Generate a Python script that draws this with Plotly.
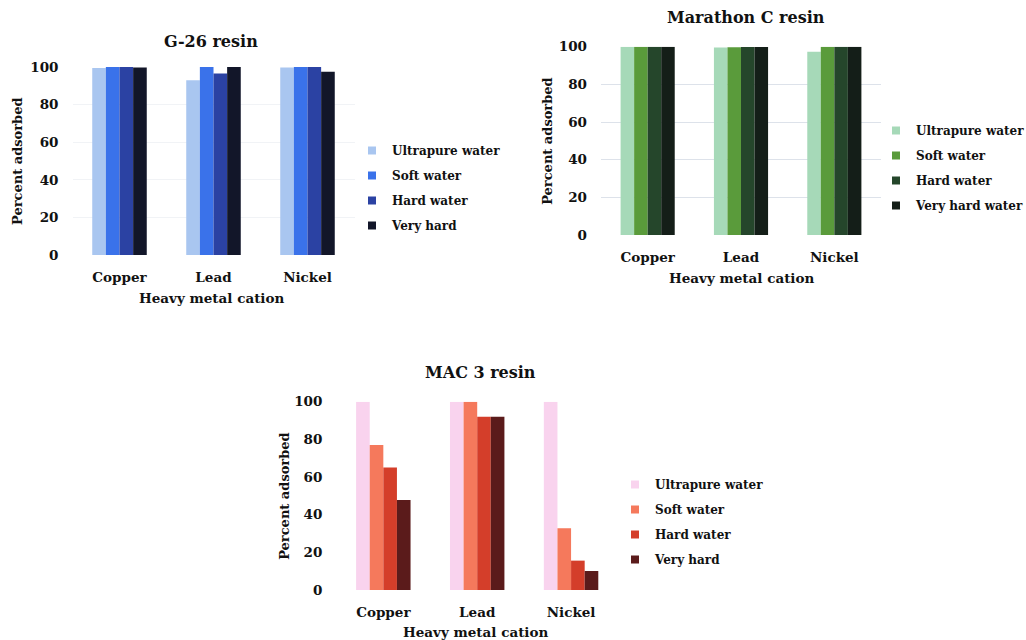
import plotly.graph_objects as go

W, H = 1026, 640

cations = ["Copper", "Lead", "Nickel"]

# Percent adsorbed per resin, one list per water type
g26_ultrapure = [99.5, 93.0, 99.8]
g26_soft = [100.0, 100.0, 100.0]
g26_hard = [100.0, 96.5, 100.0]
g26_very_hard = [99.8, 100.0, 97.5]
g26_names = ["Ultrapure water", "Soft water", "Hard water", "Very hard"]

marathon_ultrapure = [100.0, 99.6, 97.3]
marathon_soft = [100.0, 99.7, 100.0]
marathon_hard = [100.0, 99.8, 100.0]
marathon_very_hard = [100.0, 99.8, 100.0]
marathon_names = ["Ultrapure water", "Soft water", "Hard water", "Very hard water"]

mac3_ultrapure = [100.0, 100.0, 100.0]
mac3_soft = [77.0, 100.0, 32.8]
mac3_hard = [65.0, 92.0, 15.6]
mac3_very_hard = [47.8, 92.0, 10.1]
mac3_names = ["Ultrapure water", "Soft water", "Hard water", "Very hard"]

y_ticks = [0, 20, 40, 60, 80, 100]

FONT = "DejaVu Serif"
INK = "#111111"


def fx(px):
    return px / W


def fy(py):
    return 1 - py / H


panels = [
    dict(suffix="", legend="legend",
         series=[g26_ultrapure, g26_soft, g26_hard, g26_very_hard],
         names=g26_names,
         colors=["#a9c6f0", "#3a72ea", "#2b42a3", "#121629"],
         x0=72.5, x1=354.5, top=67, bottom=255,
         title="G-26 resin", title_xy=(211, 41),
         xtitle_xy=(212, 298), ytitle_x=17,
         grid="rgba(225,228,235,0.45)",
         leg_xy=(352, 136)),
    dict(suffix="2", legend="legend2",
         series=[marathon_ultrapure, marathon_soft, marathon_hard, marathon_very_hard],
         names=marathon_names,
         colors=["#a6d9b8", "#5a9b3b", "#25462b", "#141e18"],
         x0=601, x1=881, top=46.7, bottom=235,
         title="Marathon C resin", title_xy=(746, 18),
         xtitle_xy=(742, 278), ytitle_x=548,
         grid="#dde2ea",
         leg_xy=(876, 116)),
    dict(suffix="3", legend="legend3",
         series=[mac3_ultrapure, mac3_soft, mac3_hard, mac3_very_hard],
         names=mac3_names,
         colors=["#f9d3ee", "#f5795c", "#d43e2a", "#5b1b1b"],
         x0=336.4, x1=618, top=401.7, bottom=590,
         title="MAC 3 resin", title_xy=(480, 372),
         xtitle_xy=(476, 632), ytitle_x=285,
         grid="rgba(0,0,0,0)",
         leg_xy=(615, 470)),
]

fig = go.Figure()
layout = dict(
    width=W, height=H,
    margin=dict(l=0, r=0, t=0, b=0, autoexpand=False),
    paper_bgcolor="white", plot_bgcolor="white",
    barmode="group", bargap=0.42, bargroupgap=0,
    font=dict(family=FONT, size=13, color=INK, weight="bold"),
    annotations=[],
)

for p in panels:
    xa = "x" + p["suffix"]
    ya = "y" + p["suffix"]
    for i, (vals, name, col) in enumerate(zip(p["series"], p["names"], p["colors"])):
        fig.add_trace(go.Bar(
            x=cations, y=vals, name=name, marker=dict(color=col, line=dict(width=0)),
            xaxis=xa, yaxis=ya, showlegend=False,
        ))
        # small square swatch for the legend entry
        fig.add_trace(go.Scatter(
            x=[None], y=[None], mode="markers", name=name,
            marker=dict(symbol="square", size=8, color=col),
            xaxis=xa, yaxis=ya, legend=p["legend"],
            legendgroup=p["legend"] + str(i),
        ))
    layout["xaxis" + p["suffix"]] = dict(
        domain=[fx(p["x0"]), fx(p["x1"])], anchor=ya, type="category", range=[-0.5, 2.5],
        showline=False, ticks="", showgrid=False, automargin=False,
        ticklabelstandoff=12,
        tickfont=dict(family=FONT, size=13.5, color=INK, weight="bold"),
    )
    layout["yaxis" + p["suffix"]] = dict(
        domain=[fy(p["bottom"]), fy(p["top"])], anchor=xa, range=[0, 100], tickvals=y_ticks,
        showline=False, ticks="", zeroline=False, automargin=False,
        showgrid=True, gridcolor=p["grid"], gridwidth=1,
        ticklabelstandoff=13,
        tickfont=dict(family=FONT, size=13.5, color=INK, weight="bold"),
    )
    layout[p["legend"]] = dict(
        x=fx(p["leg_xy"][0]), y=fy(p["leg_xy"][1]),
        xanchor="left", yanchor="top",
        bgcolor="rgba(0,0,0,0)", tracegroupgap=6,
        itemwidth=30,
        font=dict(family=FONT, size=12, color=INK, weight="bold"),
    )
    layout["annotations"] += [
        dict(text=p["title"], xref="paper", yref="paper",
             x=fx(p["title_xy"][0]), y=fy(p["title_xy"][1]),
             xanchor="center", yanchor="middle", showarrow=False,
             font=dict(family=FONT, size=16, color=INK, weight="bold")),
        dict(text="Heavy metal cation", xref="paper", yref="paper",
             x=fx(p["xtitle_xy"][0]), y=fy(p["xtitle_xy"][1]),
             xanchor="center", yanchor="middle", showarrow=False,
             font=dict(family=FONT, size=13.5, color=INK, weight="bold")),
        dict(text="Percent adsorbed", xref="paper", yref="paper",
             x=fx(p["ytitle_x"]), y=fy((p["top"] + p["bottom"]) / 2),
             xanchor="center", yanchor="middle", showarrow=False, textangle=-90,
             font=dict(family=FONT, size=13, color=INK, weight="bold")),
    ]

fig.update_layout(**layout)
fig.write_html("out.html")
